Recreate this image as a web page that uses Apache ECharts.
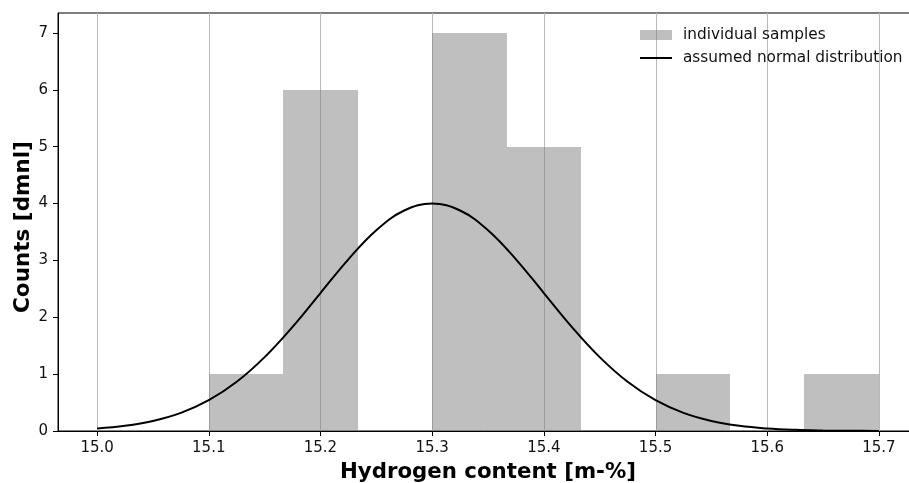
<!DOCTYPE html>
<html>
<head>
<meta charset="utf-8">
<script src="https://cdn.jsdelivr.net/npm/echarts@6/dist/echarts.min.js"></script>
<style>
html,body{margin:0;padding:0;background:#fff;}
#chart{width:909px;height:483px;}
</style>
</head>
<body>
<div id="chart"></div>
<script>
// Histogram bins (edges) and counts
const binEdges = [15.1, 15.1667, 15.2333, 15.3, 15.3667, 15.4333, 15.5, 15.5667, 15.6333, 15.7];
const counts = [1, 6, 0, 7, 5, 0, 1, 0, 1];

// Assumed normal distribution curve
const curveX = [15.000, 15.025, 15.050, 15.075, 15.100, 15.125, 15.150, 15.175, 15.200, 15.225,
                15.250, 15.275, 15.300, 15.325, 15.350, 15.375, 15.400, 15.425, 15.450, 15.475,
                15.500, 15.525, 15.550, 15.575, 15.600, 15.625, 15.650, 15.675, 15.700];
const curveY = [0.044, 0.091, 0.176, 0.318, 0.541, 0.865, 1.299, 1.831, 2.426, 3.019,
                3.530, 3.877, 4.000, 3.877, 3.530, 3.019, 2.426, 1.831, 1.299, 0.865,
                0.541, 0.318, 0.176, 0.091, 0.044, 0.020, 0.009, 0.004, 0.001];

// Tick labels
const xTicks = [15.0, 15.1, 15.2, 15.3, 15.4, 15.5, 15.6, 15.7];
const yTicks = [0, 1, 2, 3, 4, 5, 6, 7];

const xMin = 14.965, xMax = 15.735;
const yMin = 0, yMax = 7.35;

const barData = [];
for (let i = 0; i < counts.length; i++) {
  barData.push([binEdges[i], binEdges[i + 1], counts[i]]);
}
const curveData = curveX.map((x, i) => [x, curveY[i]]);
const gridData = xTicks.map(x => [x]);

const FONT = 'DejaVu Sans';
const chart = echarts.init(document.getElementById('chart'), null, {renderer: 'canvas'});

chart.setOption({
  animation: false,
  backgroundColor: '#ffffff',
  grid: {
    left: 58, top: 13, width: 860, height: 418,
    outerBoundsMode: 'none', containLabel: false,
    show: true, borderColor: '#000', borderWidth: 1, backgroundColor: 'transparent'
  },
  legend: {
    orient: 'vertical',
    left: 635, top: 22,
    itemWidth: 32, itemHeight: 10, itemGap: 7,
    symbolKeepAspect: true,
    textStyle: {fontFamily: FONT, fontSize: 15.3, color: '#111', lineHeight: 16, padding: [0, 0, 0, 6]},
    data: [
      {name: 'individual samples', icon: 'rect'},
      {name: 'assumed normal distribution', icon: 'path://M0,0H32V2H0Z', itemStyle: {color: '#000'}}
    ]
  },
  xAxis: {
    type: 'value', min: xMin, max: xMax,
    name: 'Hydrogen content [m-%]', nameLocation: 'middle', nameGap: 31,
    nameMoveOverlap: false,
    nameTextStyle: {fontFamily: FONT, fontSize: 21.3, fontWeight: 'bold', color: '#000'},
    axisLine: {show: true, lineStyle: {color: '#000', width: 1}},
    axisTick: {show: true, length: 5, lineStyle: {color: '#000'}, customValues: xTicks},
    axisLabel: {fontFamily: FONT, fontSize: 15, color: '#111', margin: 10, customValues: xTicks,
      formatter: v => Number(v).toFixed(1)},
    splitLine: {show: false}
  },
  yAxis: {
    type: 'value', min: yMin, max: yMax,
    name: 'Counts [dmnl]', nameLocation: 'middle', nameGap: 24,
    nameMoveOverlap: false,
    nameTextStyle: {fontFamily: FONT, fontSize: 21.5, fontWeight: 'bold', color: '#000', padding: [0, 10, 0, 0]},
    axisLine: {show: true, lineStyle: {color: '#000', width: 1}},
    axisTick: {show: true, length: 5, lineStyle: {color: '#000'}, customValues: yTicks},
    axisLabel: {fontFamily: FONT, fontSize: 15, color: '#111', margin: 10, customValues: yTicks},
    splitLine: {show: false}
  },
  series: [
    {
      name: 'grid',
      type: 'custom',
      z: 1,
      silent: true,
      data: gridData,
      encode: {x: 0},
      renderItem: function (params, api) {
        const p0 = api.coord([api.value(0), yMin]);
        const p1 = api.coord([api.value(0), yMax]);
        const x = Math.round(p0[0]) + 0.5;
        return {
          type: 'line',
          shape: {x1: x, y1: p0[1], x2: x, y2: p1[1]},
          style: {stroke: '#b8b8b8', lineWidth: 1}
        };
      }
    },
    {
      name: 'individual samples',
      type: 'custom',
      z: 2,
      itemStyle: {color: 'rgba(128,128,128,0.5)'},
      data: barData,
      encode: {x: [0, 1], y: 2},
      renderItem: function (params, api) {
        const c = api.value(2);
        if (!c) return null;
        const p0 = api.coord([api.value(0), 0]);
        const p1 = api.coord([api.value(1), c]);
        const x0 = Math.round(p0[0]), x1 = Math.round(p1[0]);
        const y0 = Math.round(p0[1]), y1 = Math.round(p1[1]);
        return {
          type: 'rect',
          shape: {x: x0, y: y1, width: x1 - x0, height: y0 - y1},
          style: {fill: 'rgba(128,128,128,0.5)'}
        };
      }
    },
    {
      name: 'assumed normal distribution',
      type: 'line',
      z: 3,
      data: curveData,
      symbol: 'none',
      smooth: 0.4,
      lineStyle: {color: '#000', width: 2}
    }
  ]
});
</script>
</body>
</html>
